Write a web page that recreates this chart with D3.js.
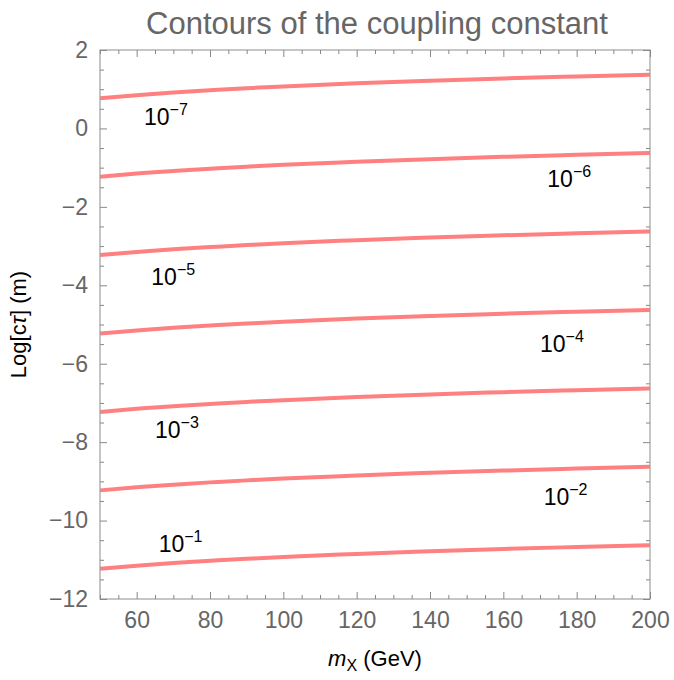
<!DOCTYPE html>
<html>
<head>
<meta charset="utf-8">
<script src="https://cdn.jsdelivr.net/npm/d3@7"></script>
<style>
  body { margin: 0; background: #fff; }
  svg { display: block; font-family: "Liberation Sans", Arial, sans-serif; }
</style>
</head>
<body>
<svg id="chart" width="674" height="680"></svg>
<script>
// masses (GeV) where curves were read
var masses = [50, 60, 70, 80, 90, 100, 120, 140, 160, 180, 200];

// log10(c tau), one array per coupling
var exponents = [-1, -2, -3, -4, -5, -6, -7];
var curve1 = [-11.230, -11.151, -11.084, -11.026, -10.975, -10.929, -10.850, -10.783, -10.725, -10.674, -10.628];
var curve2 = [-9.230, -9.151, -9.084, -9.026, -8.975, -8.929, -8.850, -8.783, -8.725, -8.674, -8.628];
var curve3 = [-7.230, -7.151, -7.084, -7.026, -6.975, -6.929, -6.850, -6.783, -6.725, -6.674, -6.628];
var curve4 = [-5.230, -5.151, -5.084, -5.026, -4.975, -4.929, -4.850, -4.783, -4.725, -4.674, -4.628];
var curve5 = [-3.230, -3.151, -3.084, -3.026, -2.975, -2.929, -2.850, -2.783, -2.725, -2.674, -2.628];
var curve6 = [-1.230, -1.151, -1.084, -1.026, -0.975, -0.929, -0.850, -0.783, -0.725, -0.674, -0.628];
var curve7 = [0.770, 0.849, 0.916, 0.974, 1.025, 1.071, 1.150, 1.217, 1.275, 1.326, 1.372];
var curves = [curve1, curve2, curve3, curve4, curve5, curve6, curve7];

// where the contour labels sit (mass, log c tau)
var labelM = [66, 171, 65, 170, 64, 172, 62];
var labelY = [-10.8, -9.6, -7.9, -5.7, -4.0, -1.5, 0.1];

var xTicks = [60, 80, 100, 120, 140, 160, 180, 200];
var yTicks = [-12, -10, -8, -6, -4, -2, 0, 2];

var svg = d3.select('#chart');
var margin = { top: 50, right: 24, bottom: 81, left: 100 };
var width = 674 - margin.left - margin.right;
var height = 680 - margin.top - margin.bottom;

var x = d3.scaleLinear().domain([50, 200]).range([0, width]);
var y = d3.scaleLinear().domain([-12, 2]).range([height, 0]);

var g = svg.append('g').attr('transform', `translate(${margin.left},${margin.top})`);

// curves
var line = d3.line()
  .x((d, i) => x(masses[i]))
  .y(d => y(d))
  .curve(d3.curveNatural);

g.selectAll('path.contour')
  .data(curves)
  .enter()
  .append('path')
  .attr('class', 'contour')
  .attr('d', line)
  .style('fill', 'none')
  .style('stroke', '#ff8080')
  .style('stroke-width', 4);

// contour labels
exponents.forEach(function(e, i) {
  var t = g.append('text')
    .attr('x', x(labelM[i]))
    .attr('y', y(labelY[i]))
    .style('font-size', '23px')
    .style('fill', '#000');
  t.append('tspan').text('10');
  t.append('tspan')
    .attr('dy', -10)
    .style('font-size', '16px')
    .text('\u2212' + (-e));
});

// frame
var frameColor = '#a0a0a0';
g.append('rect')
  .attr('width', width)
  .attr('height', height)
  .style('fill', 'none')
  .style('stroke', frameColor)
  .style('stroke-width', 1.2);

// axes with inward ticks
var fmt = d => d < 0 ? '\u2212' + (-d) : '' + d;
var xMinor = d3.range(50, 201, 5).filter(v => v % 20 != 0);
var yMinor = d3.range(-12, 2.01, 0.5).filter(v => v % 2 != 0);

function styleAxis(sel) {
  sel.select('.domain').remove();
  sel.selectAll('line').style('stroke', '#888');
  sel.selectAll('text')
    .style('font-family', '"Liberation Sans", Arial, sans-serif')
    .style('font-size', '23px')
    .style('fill', '#666');
}

g.append('g')
  .attr('transform', `translate(0,${height})`)
  .call(d3.axisBottom(x).tickValues(xTicks).tickSize(-7).tickPadding(13).tickFormat(fmt))
  .call(styleAxis);
g.append('g')
  .attr('transform', `translate(0,${height})`)
  .call(d3.axisBottom(x).tickValues(xMinor).tickSize(-4).tickFormat(''))
  .call(styleAxis);
g.append('g')
  .call(d3.axisTop(x).tickValues(xTicks).tickSize(-7).tickFormat(''))
  .call(styleAxis);
g.append('g')
  .call(d3.axisTop(x).tickValues(xMinor).tickSize(-4).tickFormat(''))
  .call(styleAxis);

g.append('g')
  .call(d3.axisLeft(y).tickValues(yTicks).tickSize(-7).tickPadding(12).tickFormat(fmt))
  .call(styleAxis);
g.append('g')
  .call(d3.axisLeft(y).tickValues(yMinor).tickSize(-4).tickFormat(''))
  .call(styleAxis);
g.append('g')
  .attr('transform', `translate(${width},0)`)
  .call(d3.axisRight(y).tickValues(yTicks).tickSize(-7).tickFormat(''))
  .call(styleAxis);
g.append('g')
  .attr('transform', `translate(${width},0)`)
  .call(d3.axisRight(y).tickValues(yMinor).tickSize(-4).tickFormat(''))
  .call(styleAxis);

// title
svg.append('text')
  .attr('x', margin.left + width / 2 + 2)
  .attr('y', 34)
  .attr('text-anchor', 'middle')
  .style('font-size', '31px')
  .style('fill', '#666')
  .text('Contours of the coupling constant');

// axis labels
var xl = svg.append('text')
  .attr('x', margin.left + width / 2)
  .attr('y', 666)
  .attr('text-anchor', 'middle')
  .style('font-size', '22px')
  .style('fill', '#000');
xl.append('tspan').style('font-style', 'italic').text('m');
xl.append('tspan').attr('dy', 5).style('font-size', '16px').text('X');
xl.append('tspan').attr('dy', -5).text(' (GeV)');

var yl = svg.append('text')
  .attr('transform', `translate(26,${margin.top + height / 2}) rotate(-90)`)
  .attr('text-anchor', 'middle')
  .style('font-size', '22px')
  .style('fill', '#000');
yl.append('tspan').text('Log[c');
yl.append('tspan').style('font-style', 'italic').text('\u03c4');
yl.append('tspan').text('] (m)');
</script>
</body>
</html>
